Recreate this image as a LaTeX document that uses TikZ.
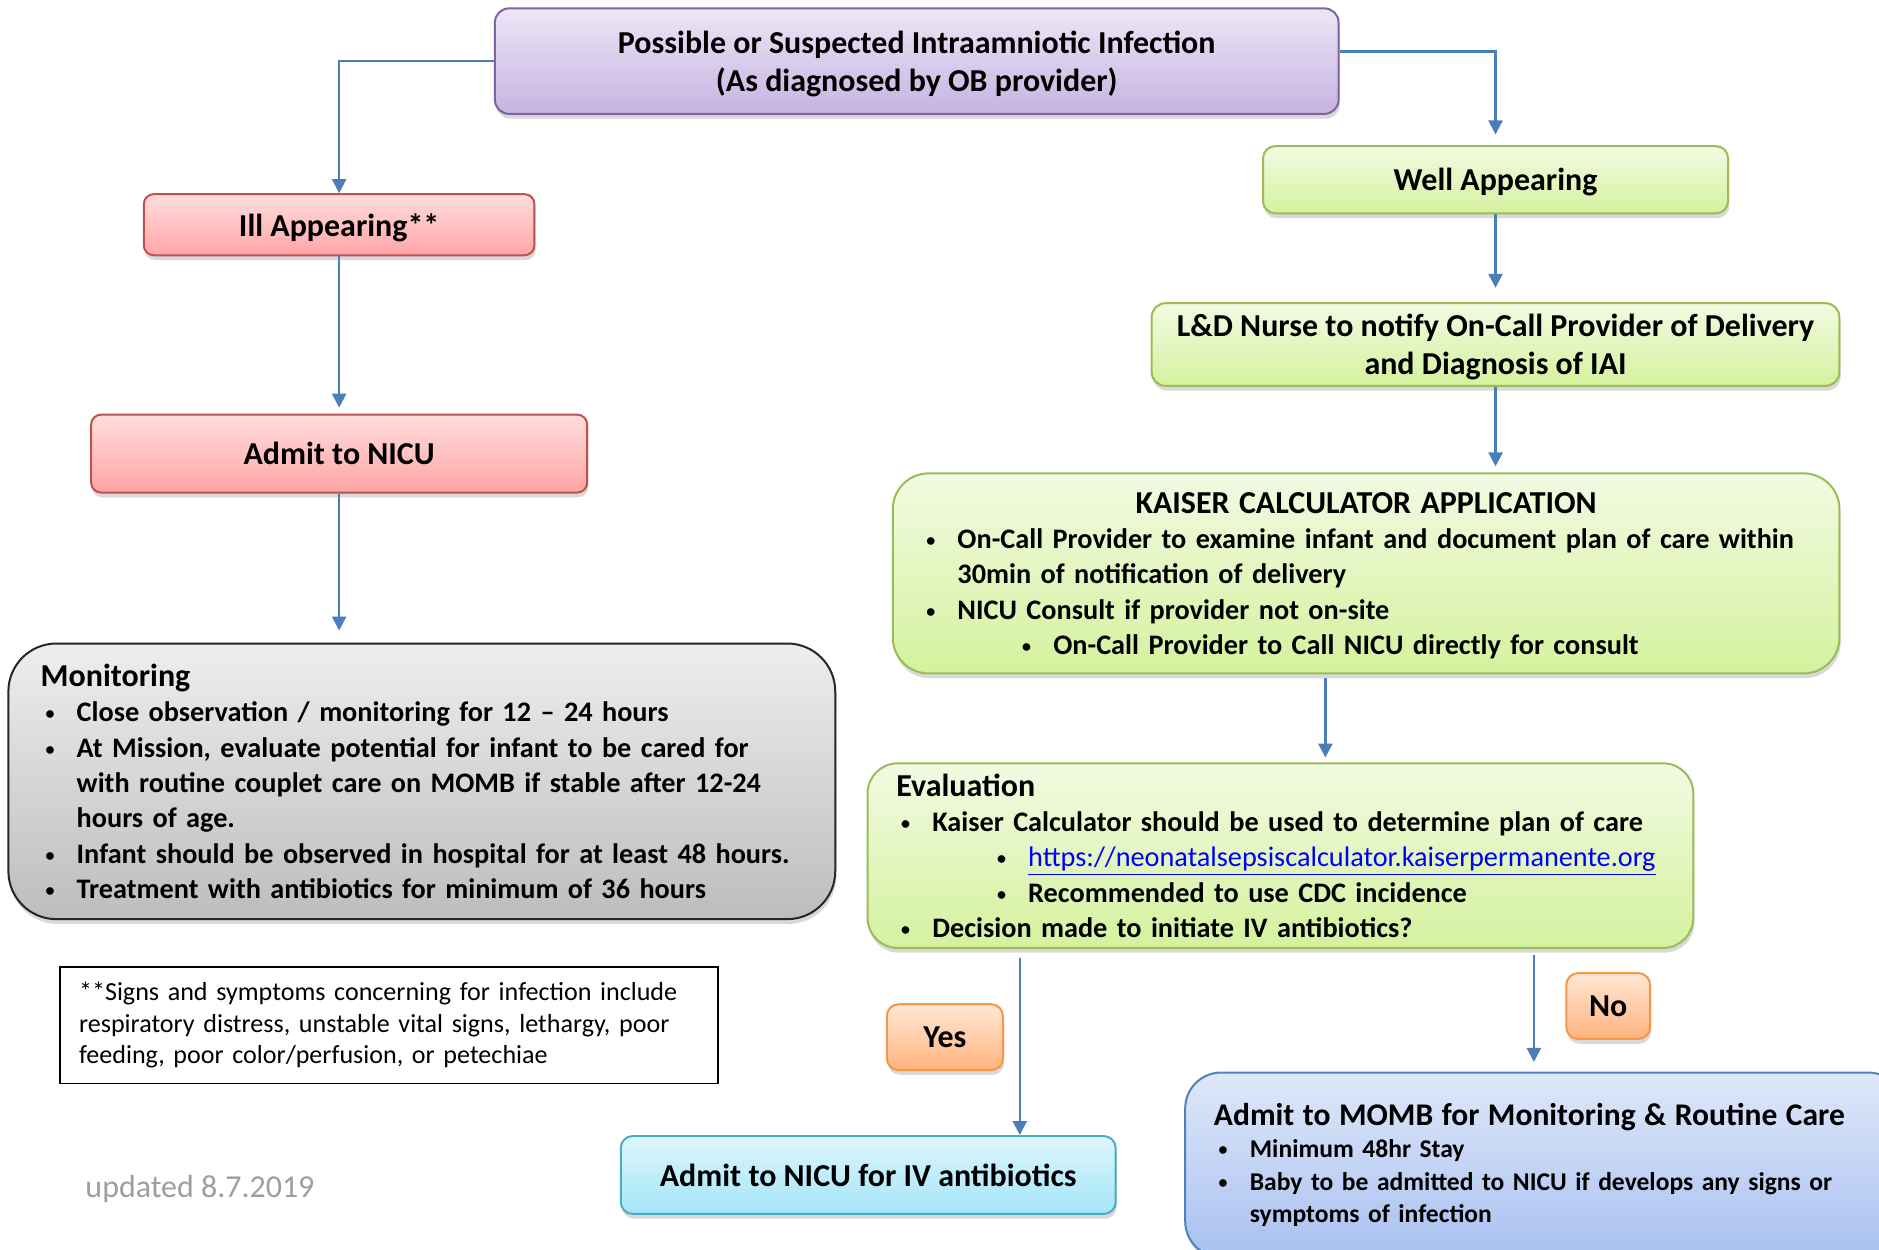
\documentclass[tikz,border=0pt]{standalone}
\usepackage{fontspec}
\setmainfont{Carlito}
\usetikzlibrary{arrows.meta,positioning,shadows,calc}

\definecolor{arrowblue}{HTML}{4A7EBB}
\definecolor{linkblue}{HTML}{0000FF}
\definecolor{purpleTop}{HTML}{EDE6F7}
\definecolor{purpleBot}{HTML}{C6B3E1}
\definecolor{purpleLine}{HTML}{8064A2}
\definecolor{redTop}{HTML}{FFDDDD}
\definecolor{redBot}{HTML}{FFA5A5}
\definecolor{redLine}{HTML}{C0504D}
\definecolor{grayTop}{HTML}{EEEEEE}
\definecolor{grayBot}{HTML}{BDBDBD}
\definecolor{grayLine}{HTML}{262626}
\definecolor{greenTop}{HTML}{F2FAE2}
\definecolor{greenBot}{HTML}{D4F29E}
\definecolor{greenLine}{HTML}{9BBB59}
\definecolor{orangeTop}{HTML}{FFE7D4}
\definecolor{orangeBot}{HTML}{FFB37E}
\definecolor{orangeLine}{HTML}{F79646}
\definecolor{cyanTop}{HTML}{DEF6FD}
\definecolor{cyanBot}{HTML}{A3E5F8}
\definecolor{cyanLine}{HTML}{4BACC6}
\definecolor{blueTop}{HTML}{DFE8F9}
\definecolor{blueBot}{HTML}{A8C0F0}
\definecolor{blueLine}{HTML}{4F81BD}

\newcommand{\bul}{\makebox[18pt][l]{\hspace*{2.4pt}\raisebox{1pt}{\fontsize{9}{9}\selectfont\textbullet}}}
\newcommand{\subbul}{\hspace*{48pt}\bul}
\newcommand{\cont}{\hspace*{18pt}}

\begin{document}
\begin{tikzpicture}[x=0.6pt, y=-0.6pt,
    box/.style={rectangle, draw, line width=1pt, align=center, inner sep=0pt, text depth=0pt,
        font=\bfseries\fontsize{16}{19.2}\selectfont,
        drop shadow={opacity=0.3, shadow xshift=0.6pt, shadow yshift=-2.4pt}},
    listbox/.style={box, align=left, text depth=, font=\bfseries\fontsize{14.15}{17.7}\selectfont},
    purplebox/.style={box, draw=purpleLine, top color=purpleTop, bottom color=purpleBot, rounded corners=7pt},
    redbox/.style={box, draw=redLine, top color=redTop, bottom color=redBot, rounded corners=5pt},
    greenbox/.style={draw=greenLine, top color=greenTop, bottom color=greenBot},
    orangebox/.style={box, draw=orangeLine, top color=orangeTop, bottom color=orangeBot, rounded corners=6pt},
    arrow/.style={-{Triangle[length=7pt, width=7pt]}, draw=arrowblue, line width=1.2pt}
]
\useasboundingbox (0,0) rectangle (1568,1043);

% Top: diagnosis
\node[purplebox, minimum width=422.4pt, minimum height=52.8pt] (iai) at (765,51)
    {Possible or Suspected Intraamniotic Infection\\(As diagnosed by OB provider)};

% Left column: ill infant
\node[redbox, minimum width=195.6pt, minimum height=30.6pt] (ill) at (283,187.5) {Ill Appearing**};
\node[redbox, minimum width=248.4pt, minimum height=39pt] (nicu) at (283,378.5) {Admit to NICU};
\node[listbox, draw=grayLine, top color=grayTop, bottom color=grayBot, rounded corners=24pt,
    minimum width=414pt, minimum height=138pt, text width=381.6pt] (monitor) at (352,652) {
{\fontsize{16}{17.7}\selectfont Monitoring}\\
\bul Close observation / monitoring for 12 -- 24 hours\\
\bul At Mission, evaluate potential for infant to be cared for\\
\cont with routine couplet care on MOMB if stable after 12-24\\
\cont hours of age.\\
\bul Infant should be observed in hospital for at least 48 hours.\\
\bul Treatment with antibiotics for minimum of 36 hours};
\node[draw, line width=0.8pt, align=left, inner xsep=9.6pt, minimum width=329.4pt, minimum height=58.2pt,
    text width=310.2pt, font=\fontsize{13.05}{15.9}\selectfont] (note) at (324.5,855.5) {
**Signs and symptoms concerning for infection include\\
respiratory distress, unstable vital signs, lethargy, poor\\
feeding, poor color/perfusion, or petechiae};
\node[anchor=west, text=black!38, inner sep=0pt, font=\fontsize{16}{19}\selectfont] (date) at (71,992) {updated 8.7.2019};

% Right column: well infant
\node[box, greenbox, rounded corners=6pt, minimum width=232.8pt, minimum height=33.6pt] (well) at (1248,150) {Well Appearing};
\node[box, greenbox, rounded corners=7pt, minimum width=344.4pt, minimum height=41.4pt] (nurse) at (1248,287.5)
    {L\&D Nurse to notify On-Call Provider of Delivery\\and Diagnosis of IAI};
\node[listbox, greenbox, rounded corners=18pt, minimum width=474pt, minimum height=100.2pt, text width=445.2pt] (kaiser) at (1140,478.5) {
\makebox[\hsize]{\fontsize{16}{17.7}\selectfont KAISER CALCULATOR APPLICATION}\\
\bul On-Call Provider to examine infant and document plan of care within\\
\cont 30min of notification of delivery\\
\bul NICU Consult if provider not on-site\\
\raisebox{0pt}[\height][0pt]{\subbul On-Call Provider to Call NICU directly for consult}};
\node[listbox, greenbox, rounded corners=15pt, minimum width=413.4pt, minimum height=92.4pt, text width=384.6pt] (eval) at (1068.5,714) {
{\fontsize{16}{17.7}\selectfont Evaluation}\\
\bul Kaiser Calculator should be used to determine plan of care\\
\subbul {\mdseries\color{linkblue}\underline{https://neonatalsepsiscalculator.kaiserpermanente.org}}\\
\subbul Recommended to use CDC incidence\\
\bul Decision made to initiate IV antibiotics?};

% Decision outcomes
\node[orangebox, minimum width=58.2pt, minimum height=33pt] (yes) at (788.5,865.5) {Yes};
\node[orangebox, minimum width=42pt, minimum height=33pt] (no) at (1342,839.5) {No};
\node[box, draw=cyanLine, top color=cyanTop, bottom color=cyanBot, rounded corners=6pt,
    minimum width=247.8pt, minimum height=39pt] (niv) at (724.5,980.5) {Admit to NICU for IV antibiotics};
\node[listbox, draw=blueLine, top color=blueTop, bottom color=blueBot, rounded corners=18pt,
    minimum width=360pt, minimum height=92.4pt, text width=331.2pt, font=\bfseries\fontsize{12.8}{16.2}\selectfont] (momb) at (1289,972) {
{\fontsize{15.8}{19}\selectfont Admit to MOMB for Monitoring \& Routine Care}\\
\bul Minimum 48hr Stay\\
\bul Baby to be admitted to NICU if develops any signs or\\
\cont symptoms of infection};

% Arrows
\draw[arrow] (iai.west) -| (ill.north);
\draw[arrow, shorten >=5.4pt] ([yshift=4.8pt]iai.east) -| (well.north);
\draw[arrow, shorten >=3pt] (ill) -- (nicu);
\draw[arrow, shorten >=6pt] (nicu.south) -- (nicu.south |- monitor.north);
\draw[arrow, shorten >=7.2pt] (well) -- (nurse);
\draw[arrow, shorten >=3pt] (nurse.south) -- (nurse.south |- kaiser.north);
\draw[arrow, shorten <=2pt, shorten >=2.4pt] ([xshift=-20.4pt]kaiser.south) -- ([xshift=-20.4pt]kaiser.south |- eval.north);
\draw[arrow, shorten <=4.8pt] ([xshift=75.9pt]niv.north |- eval.south) -- ([xshift=75.9pt]niv.north);
\draw[arrow, shorten <=3pt, shorten >=4.8pt] ([xshift=-5.4pt]momb.north |- eval.south) -- ([xshift=-5.4pt]momb.north);

\end{tikzpicture}
\end{document}
